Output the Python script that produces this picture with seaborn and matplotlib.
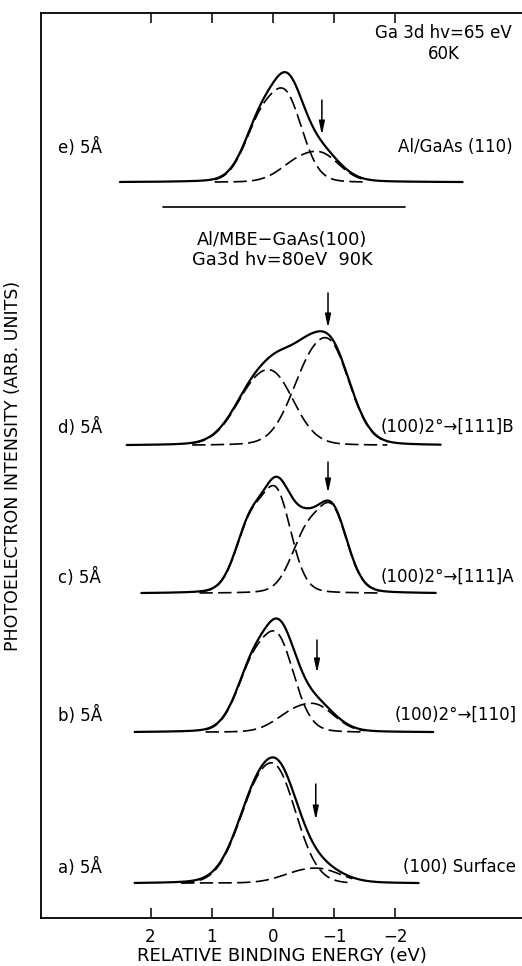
import numpy as np
import pandas as pd
import matplotlib
matplotlib.use("Agg")
import matplotlib.pyplot as plt
import seaborn as sns

# ---------------- data ----------------
panels = ["a", "b", "c", "d", "e"]
left_labels = ["a) 5Å", "b) 5Å", "c) 5Å", "d) 5Å", "e) 5Å"]
right_labels = ["(100) Surface", "(100)2°→[110]", "(100)2°→[111]A",
                "(100)2°→[111]B", "Al/GaAs (110)"]
# substrate (bulk) Ga 3d component: peak position (eV), peak height, width
sub_pos = [0.03, 0.00, 0.00, 0.08, -0.13]
sub_amp = [122, 102, 108, 76, 95]
sub_sig = [0.33, 0.27, 0.24, 0.34, 0.27]
# reacted component
rea_pos = [-0.69, -0.62, -0.90, -0.85, -0.70]
rea_amp = [15, 29, 91, 108, 31]
rea_sig = [0.33, 0.30, 0.25, 0.32, 0.30]
# marker arrows (eV)
arrow_pos = [-0.70, -0.72, -0.90, -0.90, -0.80]
# spectrum and fit ranges (eV)
scan_start = [2.26, 2.26, 2.15, 2.39, 2.50]
scan_end = [-2.38, -2.62, -2.66, -2.74, -3.10]
fit_start = [1.50, 1.10, 1.20, 1.32, 0.95]
fit_end = [-1.30, -1.50, -1.75, -1.87, -1.52]
xticks = [2, 1, 0, -1, -2]

# Ga 3d spin-orbit doublet constants and lineshape mixing
SO_SPLIT = 0.45
SO_RATIO = 0.67
ETA = 0.15

# ---------------- layout (not data) ----------------
offsets = [35, 186, 325, 473, 736]
arrow_top = [99, 92, 131, 152, 82]
arrow_tip = [63, 59, 100, 117, 47]
label_y = [51, 203, 341, 491, 771]
right_x = [-3.97, -3.98, -3.95, -3.95, -3.92]


def line(v, sig):
    gam = 1.1774 * sig
    return (1 - ETA) * np.exp(-v**2 / (2 * sig**2)) + ETA / (1 + (v / gam)**2)


def doublet(x, pos, amp, sig):
    u = np.linspace(-2, 2, 4001)
    shape = line(u, sig) + SO_RATIO * line(u - SO_SPLIT, sig)
    i = np.argmax(shape)
    v = x - (pos - u[i])
    y = line(v, sig) + SO_RATIO * line(v - SO_SPLIT, sig)
    return amp * y / shape[i]


sns.set_style("ticks")
plt.rcParams["font.family"] = ["DejaVu Sans"]
plt.rcParams["text.color"] = "black"
plt.rcParams["axes.labelcolor"] = "black"
plt.rcParams["xtick.color"] = "black"

fig = plt.figure(figsize=(5.22, 9.66), dpi=100)
ax = fig.add_axes([41 / 522, 48 / 966, 1 - 41 / 522, 905 / 966])

rows = []
for k in range(5):
    xs = np.linspace(scan_start[k], scan_end[k], 400)
    tot = doublet(xs, sub_pos[k], sub_amp[k], sub_sig[k]) + doublet(xs, rea_pos[k], rea_amp[k], rea_sig[k])
    lo = min(tot[0], tot[-1])
    for xv, yv in zip(xs, tot - lo + offsets[k]):
        rows.append(dict(panel=panels[k], curve="total", E=xv, I=yv))
    xf = np.linspace(fit_start[k], fit_end[k], 300)
    for name, p, a, s in [("sub", sub_pos[k], sub_amp[k], sub_sig[k]),
                          ("rea", rea_pos[k], rea_amp[k], rea_sig[k])]:
        yf = doublet(xf, p, a, s)
        yf = yf - min(yf[0], yf[-1]) + offsets[k]
        for xv, yv in zip(xf, yf):
            rows.append(dict(panel=panels[k], curve=name, E=xv, I=yv))
df = pd.DataFrame(rows)

for k in range(5):
    d = df[df.panel == panels[k]]
    sns.lineplot(data=d[d.curve == "total"], x="E", y="I", ax=ax, color="black",
                 lw=1.6, sort=False, estimator=None)
    for name in ["sub", "rea"]:
        sns.lineplot(data=d[d.curve == name], x="E", y="I", ax=ax, color="black",
                     lw=1.2, sort=False, estimator=None, linestyle=(0, (8, 3.2)))
    ax.annotate("", xy=(arrow_pos[k], offsets[k] + arrow_tip[k]),
                xytext=(arrow_pos[k], offsets[k] + arrow_top[k]),
                arrowprops=dict(arrowstyle="-|>,head_length=0.8,head_width=0.17",
                                color="black", lw=1.1, shrinkA=0, shrinkB=0))
    ax.text(3.51, label_y[k], left_labels[k], fontsize=12, va="center", ha="left")
    ax.text(right_x[k], label_y[k], right_labels[k], fontsize=12, va="center", ha="right")

# separator and header texts
ax.plot([1.8, -2.15], [711, 711], color="black", lw=1.2)
ax.text(-2.79, 885, "Ga 3d hv=65 eV", fontsize=12, ha="center", va="center")
ax.text(-2.79, 864, "60K", fontsize=12, ha="center", va="center")
ax.text(-0.15, 678, "Al/MBE−GaAs(100)", fontsize=12.8, ha="center", va="center")
ax.text(-0.15, 658, "Ga3d hv=80eV  90K", fontsize=12.8, ha="center", va="center")

ax.set_xlim(3.79, -4.07)
ax.set_ylim(0, 905)
ax.set_xticks(xticks)
ax.set_xticklabels([str(t).replace("-", "−") for t in xticks], fontsize=12)
ax.set_yticks([])
ax.tick_params(axis="x", direction="in", length=7, width=1.1, top=True, labeltop=False,
               pad=7, colors="black")
for s in ["left", "bottom", "top"]:
    ax.spines[s].set_linewidth(1.3)
    ax.spines[s].set_color("black")
ax.spines["right"].set_visible(False)
ax.set_xlabel("RELATIVE BINDING ENERGY (eV)", fontsize=13, labelpad=1)
ax.set_ylabel("PHOTOELECTRON INTENSITY (ARB. UNITS)", fontsize=12.5, labelpad=14)

fig.savefig("out.png", dpi=100)
